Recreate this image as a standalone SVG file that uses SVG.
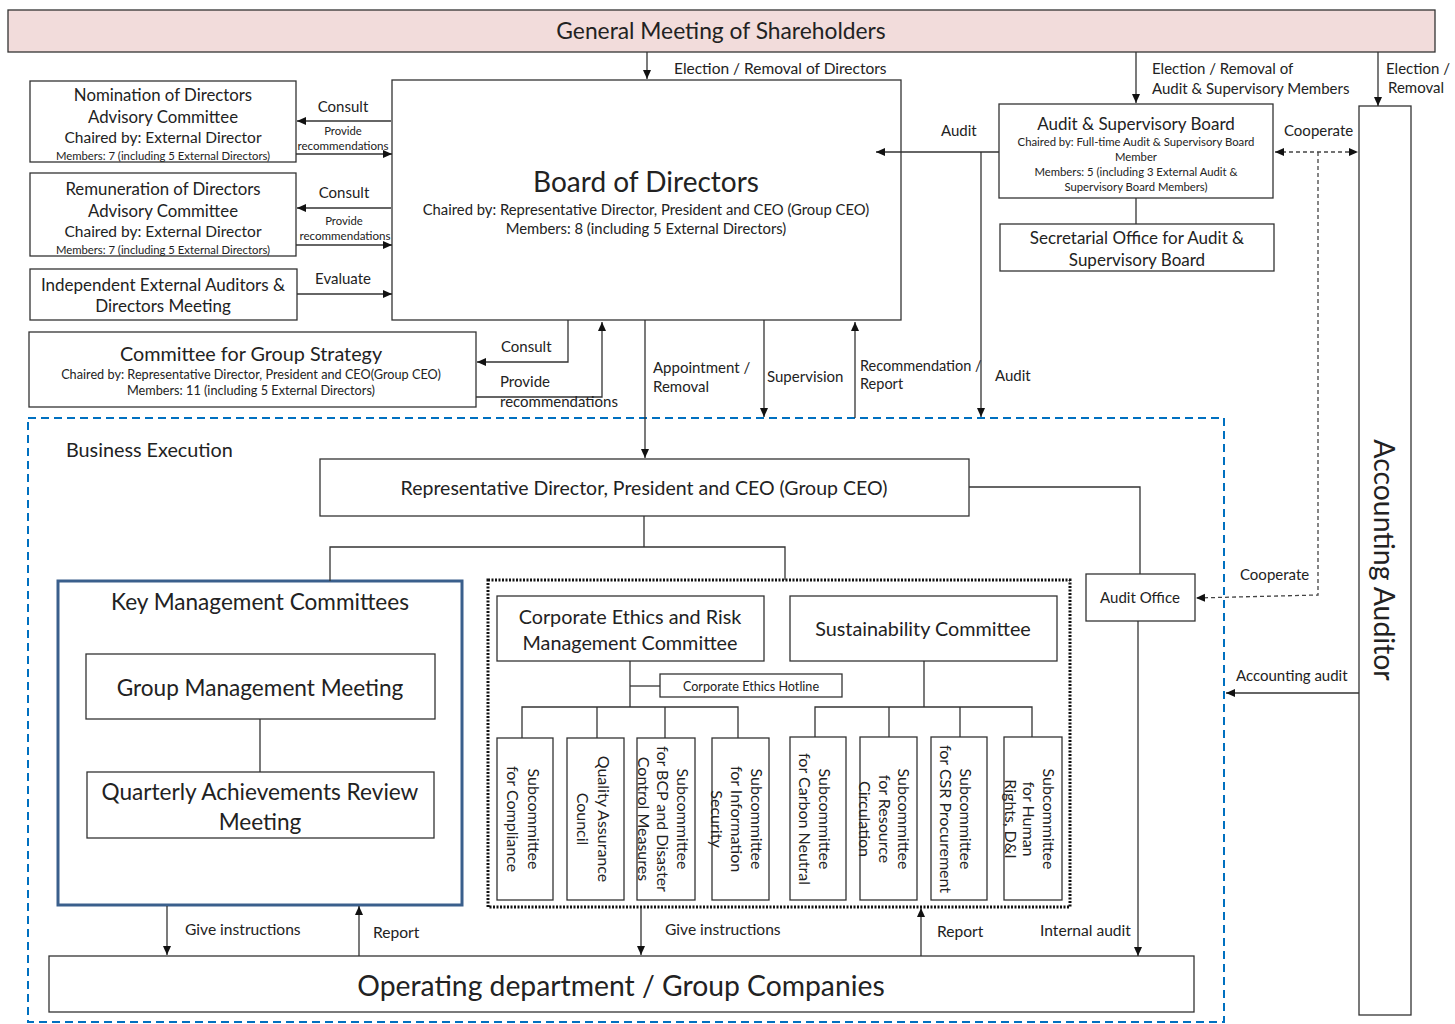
<svg xmlns="http://www.w3.org/2000/svg" width="1455" height="1024" viewBox="0 0 1455 1024">
<defs>
<marker id="ah" markerWidth="10" markerHeight="10" refX="9" refY="5" orient="auto-start-reverse" markerUnits="userSpaceOnUse">
<path d="M0,1 L9,5 L0,9 z" fill="#111"/>
</marker>
<style>
text{font-family:Lato,"Open Sans","Liberation Sans",sans-serif;fill:#222;dominant-baseline:central;}
.c{text-anchor:middle;}
.box{fill:#fff;stroke:#333;stroke-width:1.3;}
.ln{fill:none;stroke:#333;stroke-width:1.3;}
.ar{fill:none;stroke:#333;stroke-width:1.3;marker-end:url(#ah);}
.dash{fill:none;stroke:#444;stroke-width:1.3;stroke-dasharray:4,3;}
.f14{font-size:15px;}
.f10{font-size:11.3px;}
.f16{font-size:17px;}
.f15{font-size:16.8px;}
.fs{font-size:16px;}
.f18{font-size:19.8px;}
.f20{font-size:22.6px;}
</style>
</defs>

<g id="general-meeting">
<rect x="8" y="10" width="1427" height="42" fill="#f2dcdb" stroke="#333" stroke-width="1.3"/>
<text class="c" x="721" y="30" style="font-size:22.8px">General Meeting of Shareholders</text>
</g>

<g id="board">
<rect class="box" x="392" y="80" width="509" height="240"/>
<text class="c" x="646" y="181" style="font-size:28px">Board of Directors</text>
<text class="c" x="646" y="209" style="font-size:14.8px">Chaired by: Representative Director, President and CEO (Group CEO)</text>
<text class="c" x="646" y="228" style="font-size:14.8px">Members: 8 (including 5 External Directors)</text>
</g>

<g id="nomination">
<rect class="box" x="30" y="81" width="266" height="81"/>
<text class="c f15" x="163" y="94">Nomination of Directors</text>
<text class="c f15" x="163" y="116">Advisory Committee</text>
<text class="c" x="163" y="137" style="font-size:15.5px">Chaired by: External Director</text>
<text class="c f10" x="163" y="155">Members: 7 (including 5 External Directors)</text>
</g>

<g id="remuneration">
<rect class="box" x="30" y="173" width="266" height="83"/>
<text class="c f15" x="163" y="188">Remuneration of Directors</text>
<text class="c f15" x="163" y="210">Advisory Committee</text>
<text class="c" x="163" y="231" style="font-size:15.5px">Chaired by: External Director</text>
<text class="c f10" x="163" y="249">Members: 7 (including 5 External Directors)</text>
</g>

<g id="independent">
<rect class="box" x="30" y="269" width="267" height="51"/>
<text class="c f16" x="163" y="284">Independent External Auditors &amp;</text>
<text class="c f16" x="163" y="305">Directors Meeting</text>
</g>

<g id="group-strategy">
<rect class="box" x="29" y="332" width="447" height="75"/>
<text class="c f18" x="251" y="353">Committee for Group Strategy</text>
<text class="c" x="251" y="374" style="font-size:12.7px">Chaired by: Representative Director, President and CEO(Group CEO)</text>
<text class="c" x="251" y="390" style="font-size:12.7px">Members: 11 (including 5 External Directors)</text>
</g>

<g id="audit-board">
<rect class="box" x="999" y="104" width="274" height="94"/>
<text class="c f16" x="1136" y="123">Audit &amp; Supervisory Board</text>
<text class="c f10" x="1136" y="141">Chaired by: Full-time Audit &amp; Supervisory Board</text>
<text class="c f10" x="1136" y="156">Member</text>
<text class="c f10" x="1136" y="171">Members: 5 (including 3 External Audit &amp;</text>
<text class="c f10" x="1136" y="186">Supervisory Board Members)</text>
</g>

<g id="secretarial">
<rect class="box" x="1000" y="224" width="274" height="47"/>
<text class="c f16" x="1137" y="237">Secretarial Office for Audit &amp;</text>
<text class="c f16" x="1137" y="259">Supervisory Board</text>
</g>

<g id="accounting-auditor">
<rect class="box" x="1359" y="106" width="52" height="909"/>
<text class="c" transform="translate(1385,560) rotate(90)" x="0" y="0" style="font-size:28.4px">Accounting Auditor</text>
</g>

<g id="business-execution">
<rect x="28" y="418" width="1196" height="604" fill="none" stroke="#0070c0" stroke-width="2" stroke-dasharray="8,5"/>
<text x="66" y="449" class="f18">Business Execution</text>
</g>

<g id="ceo">
<rect class="box" x="320" y="459" width="649" height="57"/>
<text class="c" x="644" y="487" style="font-size:19.5px">Representative Director, President and CEO (Group CEO)</text>
</g>

<g id="key-management">
<rect x="58" y="581" width="404" height="324" fill="#fff" stroke="#3a5f8c" stroke-width="3"/>
<text class="c f20" x="260" y="601">Key Management Committees</text>
</g>
<g id="group-management">
<rect class="box" x="86" y="654" width="349" height="65"/>
<text class="c f20" x="260" y="687">Group Management Meeting</text>
</g>
<g id="quarterly">
<rect class="box" x="87" y="772" width="347" height="66"/>
<text class="c f20" x="260" y="791">Quarterly Achievements Review</text>
<text class="c f20" x="260" y="821">Meeting</text>
</g>

<g id="committees-group">
<rect x="488" y="580" width="582" height="327" fill="none" stroke="#111" stroke-width="3" stroke-dasharray="2,1.5"/>
</g>
<g id="ethics-risk">
<rect class="box" x="497" y="596" width="267" height="65"/>
<text class="c f18" x="630" y="616">Corporate Ethics and Risk</text>
<text class="c f18" x="630" y="642">Management Committee</text>
</g>
<g id="sustainability">
<rect class="box" x="790" y="596" width="267" height="65"/>
<text class="c f18" x="923" y="628">Sustainability Committee</text>
</g>
<g id="hotline">
<rect class="box" x="660" y="674" width="182" height="23"/>
<text class="c" x="751" y="686" style="font-size:12.6px">Corporate Ethics Hotline</text>
</g>

<g id="sub-compliance">
<rect class="box" x="497" y="738" width="56" height="162"/>
<text class="c fs" transform="translate(525,819) rotate(90)"><tspan x="0" y="-10">Subcommittee</tspan><tspan x="0" y="11">for Compliance</tspan></text>
</g>
<g id="sub-quality">
<rect class="box" x="567" y="738" width="57" height="162"/>
<text class="c fs" transform="translate(595,819) rotate(90)"><tspan x="0" y="-10">Quality Assurance</tspan><tspan x="0" y="11">Council</tspan></text>
</g>
<g id="sub-bcp">
<rect class="box" x="637" y="738" width="58" height="162"/>
<text class="c fs" transform="translate(665,819) rotate(90)"><tspan x="0" y="-19">Subcommittee</tspan><tspan x="0" y="1">for BCP and Disaster</tspan><tspan x="0" y="20">Control Measures</tspan></text>
</g>
<g id="sub-infosec">
<rect class="box" x="712" y="738" width="57" height="162"/>
<text class="c fs" transform="translate(740,819) rotate(90)"><tspan x="0" y="-18">Subcommittee</tspan><tspan x="0" y="2">for Information</tspan><tspan x="0" y="22">Security</tspan></text>
</g>
<g id="sub-carbon">
<rect class="box" x="790" y="737" width="56" height="163"/>
<text class="c fs" transform="translate(818,819) rotate(90)"><tspan x="0" y="-8">Subcommittee</tspan><tspan x="0" y="12">for Carbon Neutral</tspan></text>
</g>
<g id="sub-resource">
<rect class="box" x="860" y="737" width="57" height="163"/>
<text class="c fs" transform="translate(888,819) rotate(90)"><tspan x="0" y="-17">Subcommittee</tspan><tspan x="0" y="2">for Resource</tspan><tspan x="0" y="22">Circulation</tspan></text>
</g>
<g id="sub-csr">
<rect class="box" x="931" y="737" width="56" height="163"/>
<text class="c fs" transform="translate(959,819) rotate(90)"><tspan x="0" y="-8">Subcommittee</tspan><tspan x="0" y="12">for CSR Procurement</tspan></text>
</g>
<g id="sub-human">
<rect class="box" x="1004" y="737" width="58" height="163"/>
<text class="c fs" transform="translate(1033,819) rotate(90)"><tspan x="0" y="-17">Subcommittee</tspan><tspan x="0" y="3">for Human</tspan><tspan x="0" y="21">Rights, D&amp;I</tspan></text>
</g>

<g id="audit-office">
<rect class="box" x="1086" y="574" width="109" height="47"/>
<text class="c" x="1140" y="597" style="font-size:15px">Audit Office</text>
</g>

<g id="operating">
<rect class="box" x="49" y="956" width="1145" height="56"/>
<text class="c" x="621" y="985" style="font-size:28.3px">Operating department / Group Companies</text>
</g>

<g id="connectors">
<line class="ar" x1="647" y1="52" x2="647" y2="79"/>
<text class="f14" x="674" y="68" style="font-size:15.5px">Election / Removal of Directors</text>
<line class="ar" x1="1136" y1="52" x2="1136" y2="103"/>
<text class="f14" x="1152" y="68">Election / Removal of</text>
<text class="f14" x="1152" y="88">Audit &amp; Supervisory Members</text>
<line class="ar" x1="1378" y1="52" x2="1378" y2="106"/>
<text class="f14" x="1386" y="68">Election /</text>
<text class="f14" x="1388" y="87">Removal</text>

<line class="ar" x1="391" y1="121" x2="297" y2="121"/>
<text class="c f14" x="343" y="106">Consult</text>
<text class="c f10" x="343" y="130">Provide</text>
<text class="c" x="343" y="145" style="font-size:11.6px">recommendations</text>
<line class="ar" x1="296" y1="154" x2="392" y2="154"/>
<line class="ar" x1="391" y1="208" x2="297" y2="208"/>
<text class="c f14" x="344" y="192">Consult</text>
<text class="c f10" x="344" y="220">Provide</text>
<text class="c" x="345" y="235" style="font-size:11.6px">recommendations</text>
<line class="ar" x1="296" y1="245" x2="392" y2="245"/>
<line class="ar" x1="297" y1="294" x2="392" y2="294"/>
<text class="c f14" x="343" y="278">Evaluate</text>

<polyline class="ar" points="568,320 568,362 477,362"/>
<text class="f14" x="501" y="346">Consult</text>
<polyline class="ar" points="476,397 602,397 602,322"/>
<text class="f14" x="500" y="381">Provide</text>
<text class="f14" x="500" y="401">recommendations</text>

<line class="ar" x1="645" y1="320" x2="645" y2="458"/>
<text class="f14" x="653" y="367">Appointment /</text>
<text class="f14" x="653" y="386">Removal</text>
<line class="ar" x1="764" y1="320" x2="764" y2="417"/>
<text class="f14" x="767" y="376">Supervision</text>
<line class="ar" x1="855" y1="418" x2="855" y2="322"/>
<text class="f14" x="860" y="365" style="font-size:14.5px">Recommendation /</text>
<text class="f14" x="860" y="383" style="font-size:14.5px">Report</text>
<line class="ar" x1="999" y1="152" x2="876" y2="152"/>
<text class="f14" x="941" y="130">Audit</text>
<line class="ar" x1="981" y1="152" x2="981" y2="417"/>
<text class="f14" x="995" y="375">Audit</text>
<line class="ln" x1="1136" y1="198" x2="1136" y2="224"/>

<line class="dash" x1="1275" y1="152" x2="1358" y2="152" marker-start="url(#ah)" marker-end="url(#ah)"/>
<text class="f14" x="1284" y="130">Cooperate</text>
<polyline class="dash" points="1318,152 1318,595 1196,598" marker-end="url(#ah)"/>
<text class="f14" x="1240" y="574">Cooperate</text>
<line class="ar" x1="1359" y1="693" x2="1226" y2="693"/>
<text class="f14" x="1236" y="675">Accounting audit</text>

<polyline class="ln" points="969,487 1140,487 1140,574"/>
<line class="ln" x1="644" y1="516" x2="644" y2="547"/>
<polyline class="ln" points="330,581 330,547 785,547 785,580"/>
<line class="ln" x1="260" y1="719" x2="260" y2="772"/>

<line class="ln" x1="630" y1="661" x2="630" y2="707"/>
<line class="ln" x1="630" y1="686" x2="660" y2="686"/>
<polyline class="ln" points="522,738 522,707 738,707 738,738"/>
<line class="ln" x1="597" y1="707" x2="597" y2="738"/>
<line class="ln" x1="665" y1="707" x2="665" y2="738"/>
<line class="ln" x1="924" y1="661" x2="924" y2="707"/>
<polyline class="ln" points="815,737 815,707 1032,707 1032,737"/>
<line class="ln" x1="889" y1="707" x2="889" y2="737"/>
<line class="ln" x1="960" y1="707" x2="960" y2="737"/>

<line class="ar" x1="167" y1="906" x2="167" y2="955"/>
<text class="f14" x="185" y="929" style="font-size:15.6px">Give instructions</text>
<line class="ar" x1="359" y1="956" x2="359" y2="906"/>
<text class="f14" x="373" y="932" style="font-size:15.6px">Report</text>
<line class="ar" x1="641" y1="908" x2="641" y2="955"/>
<text class="f14" x="665" y="929" style="font-size:15.6px">Give instructions</text>
<line class="ar" x1="921" y1="956" x2="921" y2="908"/>
<text class="f14" x="937" y="931" style="font-size:15.6px">Report</text>
<line class="ar" x1="1138" y1="621" x2="1138" y2="956"/>
<text class="f14" x="1040" y="930" style="font-size:15.6px">Internal audit</text>
</g>
</svg>
